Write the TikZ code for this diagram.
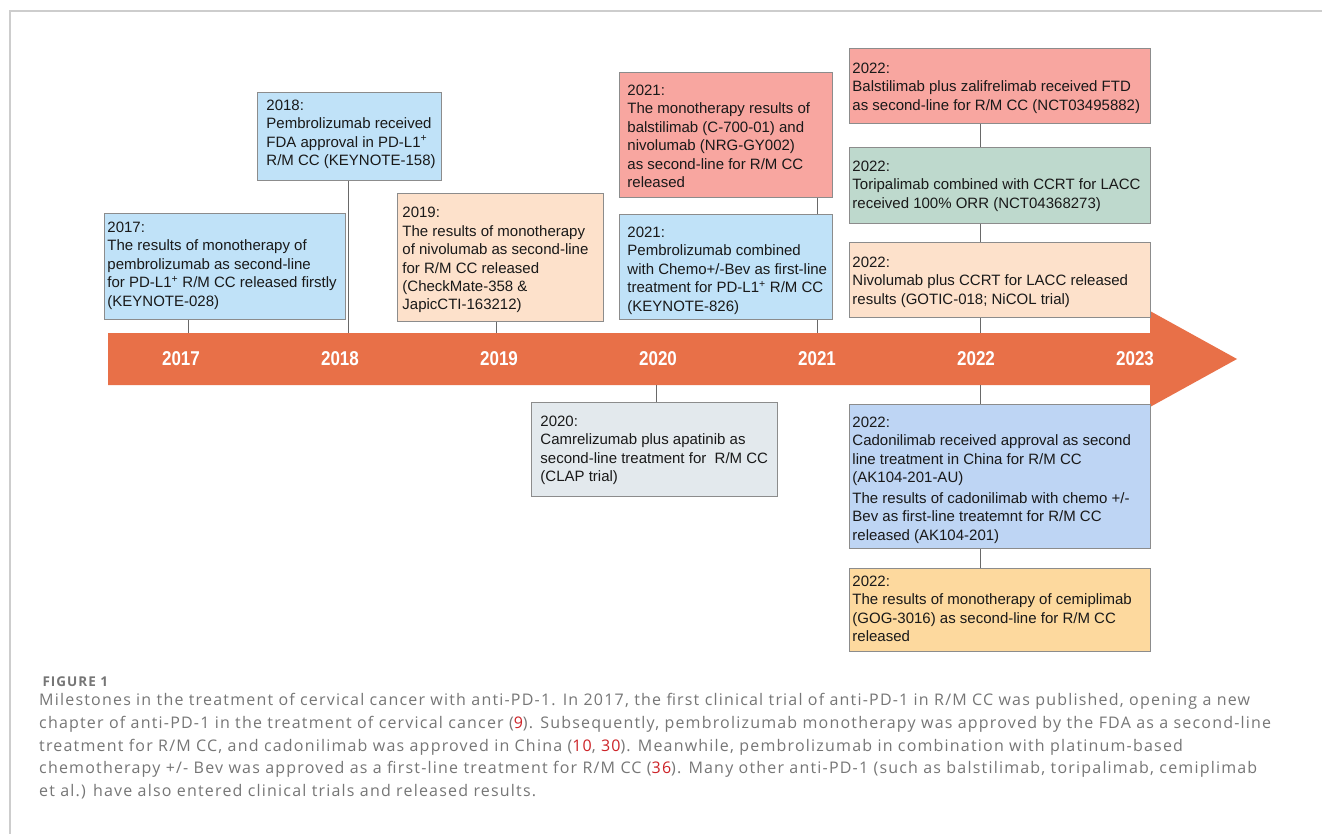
\documentclass[tikz,border=0pt]{standalone}
\usepackage{fontspec}
\setmainfont{Liberation Sans}
\newfontfamily\capfont[LetterSpace=7.5]{Open Sans}
\newfontfamily\yearfont[FakeStretch=0.85]{Liberation Sans}

\definecolor{arrowred}{RGB}{232,112,72}
\definecolor{boxline}{RGB}{140,140,140}
\definecolor{linkgray}{RGB}{105,105,105}
\definecolor{framegray}{RGB}{205,205,205}
\definecolor{skyblue}{RGB}{192,226,248}
\definecolor{peach}{RGB}{253,225,203}
\definecolor{salmon}{RGB}{248,166,160}
\definecolor{sage}{RGB}{190,217,205}
\definecolor{mist}{RGB}{227,233,237}
\definecolor{cornflower}{RGB}{190,213,244}
\definecolor{apricot}{RGB}{253,217,158}
\definecolor{captiongray}{RGB}{118,118,118}
\definecolor{refred}{RGB}{205,35,40}

% text block of a milestone box: width, height, top gap, left gap, lines
\newcommand{\evtext}[5]{\parbox[c][#2][t]{#1}{\raggedright\leftskip=#4\relax\vspace*{#3}#5}}
\newcommand{\plusup}{\textsuperscript{+}}

\begin{document}
\begin{tikzpicture}[x=1pt,y=-1pt,
    event/.style={draw=boxline, line width=0.9pt, inner sep=0pt, anchor=north west,
        font=\fontsize{15}{18.4}\selectfont, text=black!90},
    link/.style={draw=linkgray, line width=1pt},
    yearlabel/.style={text=white, font=\yearfont\fontsize{20}{22}\selectfont\bfseries}]

    \useasboundingbox (0,0) rectangle (1322,834);
    \fill[white] (0,0) rectangle (1322,834);

    % frame
    \draw[framegray, line width=1.5pt] (10,834) -- (10,11) -- (1322,11);

    % timeline arrow
    \fill[arrowred] (108,333) -- (1150,333) -- (1150,311) -- (1237,359)
        -- (1150,407) -- (1150,385) -- (108,385) -- cycle;

    \foreach \yr/\x in {2017/181,2018/340,2019/499,2020/658,2021/817,2022/976,2023/1135}
        \node[yearlabel] (y\yr) at (\x,359) {\yr};

    % milestones above the axis
    \node[event, fill=skyblue] (e2017) at (104,213) {\evtext{241pt}{106pt}{8.5pt}{3pt}{2017:\\
        The results of monotherapy of\\ pembrolizumab as second-line\\
        for PD-L1\plusup\ R/M CC released firstly\\ (KEYNOTE-028)}};
    \node[event, fill=skyblue] (e2018) at (257,92) {\evtext{184pt}{88pt}{7.5pt}{9pt}{2018:\\
        Pembrolizumab received\\ FDA approval in PD-L1\plusup\\ R/M CC (KEYNOTE-158)}};
    \node[event, fill=peach] (e2019) at (397,193) {\evtext{206pt}{128pt}{14pt}{5pt}{2019:\\
        The results of monotherapy\\ of nivolumab as second-line\\ for R/M CC released\\
        (CheckMate-358 \&\\ JapicCTI-163212)}};
    \node[event, fill=salmon] (e2021a) at (619,72) {\evtext{213pt}{125pt}{12.5pt}{8pt}{2021:\\
        The monotherapy results of\\ balstilimab (C-700-01) and\\ nivolumab (NRG-GY002)\\
        as second-line for R/M CC\\ released}};
    \node[event, fill=skyblue] (e2021b) at (619,214) {\evtext{213pt}{105pt}{12.5pt}{8pt}{2021:\\
        Pembrolizumab combined\\ with Chemo+/-Bev as first-line\\
        treatment for PD-L1\plusup\ R/M CC\\ (KEYNOTE-826)}};
    \node[event, fill=salmon] (e2022a) at (849,48) {\evtext{301pt}{75pt}{14.5pt}{3pt}{2022:\\
        Balstilimab plus zalifrelimab received FTD\\ as second-line for R/M CC (NCT03495882)}};
    \node[event, fill=sage] (e2022b) at (849,147) {\evtext{301pt}{76pt}{13.5pt}{3pt}{2022:\\
        Toripalimab combined with CCRT for LACC\\ received 100\% ORR (NCT04368273)}};
    \node[event, fill=peach] (e2022c) at (849,242) {\evtext{301pt}{75pt}{14.5pt}{3pt}{2022:\\
        Nivolumab plus CCRT for LACC released\\ results (GOTIC-018; NiCOL trial)}};

    % milestones below the axis
    \node[event, fill=mist] (e2020) at (531,402) {\evtext{246pt}{94pt}{13.5pt}{9pt}{2020:\\
        Camrelizumab plus apatinib as\\ second-line treatment for\ \ R/M CC\\ (CLAP trial)}};
    \node[event, fill=cornflower] (e2022d) at (849,404) {\evtext{301pt}{144pt}{12.5pt}{3pt}{2022:\\
        Cadonilimab received approval as second\\ line treatment in China for R/M CC\\
        (AK104-201-AU)\\[2.5pt] The results of cadonilimab with chemo +/-\\
        Bev as first-line treatemnt for R/M CC\\ released (AK104-201)}};
    \node[event, fill=apricot] (e2022e) at (849,568) {\evtext{301pt}{83pt}{7.5pt}{3pt}{2022:\\
        The results of monotherapy of cemiplimab\\ (GOG-3016) as second-line for R/M CC\\ released}};

    % where the links meet the arrow
    \coordinate (t2017) at (188,333);
    \coordinate (t2018) at (348,333);
    \coordinate (t2019) at (496,333);
    \coordinate (t2021) at (817,333);
    \coordinate (t2022) at (980,333);
    \coordinate (b2020) at (656,385);
    \coordinate (b2022) at (980,385);

    \draw[link] (e2017.south -| t2017) -- (t2017);
    \draw[link] (e2018.south -| t2018) -- (t2018);
    \draw[link] (e2019.south -| t2019) -- (t2019);
    \draw[link] (e2021a.south -| t2021) -- (e2021b.north -| t2021);
    \draw[link] (e2021b.south -| t2021) -- (t2021);
    \draw[link] (e2022a.south -| t2022) -- (e2022b.north -| t2022);
    \draw[link] (e2022b.south -| t2022) -- (e2022c.north -| t2022);
    \draw[link] (e2022c.south -| t2022) -- (t2022);
    \draw[link] (b2020) -- (e2020.north -| b2020);
    \draw[link] (b2022) -- (e2022d.north -| b2022);
    \draw[link] (e2022d.south -| b2022) -- (e2022e.north -| b2022);

    % caption
    \node[anchor=west, text=captiongray, font=\capfont\fontsize{13.5}{16}\selectfont\bfseries]
        (figlabel) at (39,682) {FIGURE 1};
    \node[anchor=north west, inner sep=0pt, align=left, text=captiongray,
        font=\capfont\fontsize{16}{22.8}\selectfont] (caption) at (39,693) {%
        Milestones in the treatment of cervical cancer with anti-PD-1. In 2017, the first clinical trial of anti-PD-1 in R/M CC was published, opening a new\\
        chapter of anti-PD-1 in the treatment of cervical cancer ({\color{refred}9}). Subsequently, pembrolizumab monotherapy was approved by the FDA as a second-line\\
        treatment for R/M CC, and cadonilimab was approved in China ({\color{refred}10}, {\color{refred}30}). Meanwhile, pembrolizumab in combination with platinum-based\\
        chemotherapy +/- Bev was approved as a first-line treatment for R/M CC ({\color{refred}36}). Many other anti-PD-1 (such as balstilimab, toripalimab, cemiplimab\\
        et al.) have also entered clinical trials and released results.};
\end{tikzpicture}
\end{document}
